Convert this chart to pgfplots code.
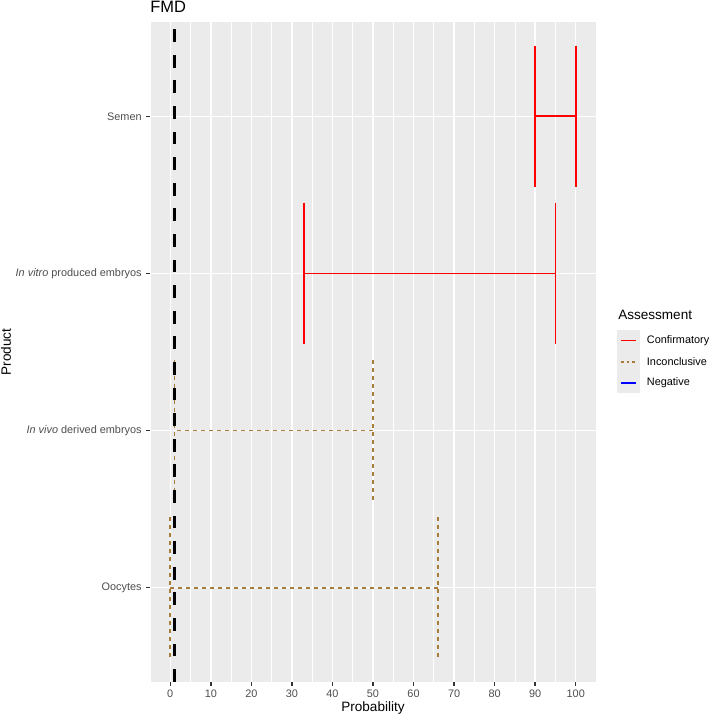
\documentclass[border=0pt]{standalone}
\usepackage{pgfplots}
\pgfplotsset{compat=1.18}
\usepackage{fontspec}
\setmainfont{Liberation Sans}
\definecolor{grey92}{HTML}{EBEBEB}
\definecolor{grey30}{HTML}{4D4D4D}
\definecolor{grey20}{HTML}{333333}
\definecolor{conf}{HTML}{FF0000}
\definecolor{inconc}{HTML}{A87D3A}
\definecolor{negc}{HTML}{0000FF}
\begin{document}
\begin{tikzpicture}
\begin{axis}[
  at={(0,0)}, anchor=south west,
  scale only axis, width=334.5bp, height=495bp,
  xmin=-5, xmax=105, ymin=0.4, ymax=4.6,
  axis background/.style={fill=grey92},
  axis line style={draw=none},
  xtick={0,10,...,100},
  minor xtick={-5,5,...,105},
  ytick={1,2,3,4},
  yticklabels={Oocytes,\textit{In vivo} derived embryos,\textit{In vitro} produced embryos,Semen},
  xmajorgrids, xminorgrids, ymajorgrids,
  major grid style={white, line width=1.07bp},
  minor grid style={white, line width=0.53bp},
  tick align=outside, tick pos=left,
  major tick length=2.75bp, minor tick length=0pt,
  tick style={grey20, line width=1.07bp},
  /pgf/number format/assume math mode=true,
  ticklabel style={font=\fontsize{8.2}{9}\selectfont, text=grey30},
  xticklabel style={anchor=north, yshift=0bp},
  yticklabel style={anchor=east},
  xlabel={Probability}, ylabel={Product},
  label style={font=\fontsize{10.2}{12}\selectfont, text=black},
  xlabel style={at={(axis description cs:0.5,0)}, anchor=center, yshift=-19.5bp},
  ylabel style={at={(axis description cs:0,0.5)}, anchor=center, rotate=0, yshift=108bp},
  clip=true,
  cf/.style={draw=conf, line width=1.2bp, solid},
  ic/.style={draw=inconc, line width=1.2bp, dash pattern=on 3bp off 3bp},
]
% Semen: Confirmatory 90-100
\addplot[cf] coordinates {(100,4.45) (100,3.55)};
\addplot[cf] coordinates {(100,4) (90,4)};
\addplot[cf] coordinates {(90,4.45) (90,3.55)};
% In vitro: Confirmatory 33-95
\addplot[cf] coordinates {(95,3.45) (95,2.55)};
\addplot[cf] coordinates {(95,3) (33,3)};
\addplot[cf] coordinates {(33,3.45) (33,2.55)};
% In vivo: Inconclusive 1-50
\addplot[ic] coordinates {(50,2.45) (50,1.55)};
\addplot[ic] coordinates {(50,2) (1,2)};
\addplot[ic] coordinates {(1,2.45) (1,1.55)};
% Oocytes: Inconclusive 0-66
\addplot[ic] coordinates {(66,1.45) (66,0.55)};
\addplot[ic] coordinates {(66,1) (0,1)};
\addplot[ic] coordinates {(0,1.45) (0,0.55)};
% reference line
\addplot[draw=black, line width=2.4bp, dash pattern=on 9.6bp off 9.6bp] coordinates {(1,0.4) (1,4.6)};
\end{axis}
% title
\node[anchor=base west, inner sep=0pt, font=\fontsize{12.4}{14}\selectfont] at (0bp,502bp) {FMD};
% legend
\node[anchor=west, inner sep=0pt, font=\fontsize{10.2}{12}\selectfont] at (351bp,275.25bp) {Assessment};
\fill[grey92] (350.25bp,216.5bp) rectangle (367.5bp,264bp);
\draw[draw=conf, line width=1.2bp, solid] (353bp,256bp) -- (364.5bp,256bp);
\draw[draw=inconc, line width=1.2bp, dash pattern=on 2.2bp off 2.2bp] (353bp,240bp) -- (364.5bp,240bp);
\draw[draw=negc, line width=1.2bp, solid] (353bp,224.25bp) -- (364.5bp,224.25bp);
\begin{scope}[every node/.style={anchor=west, inner sep=0pt, font=\fontsize{8.2}{9}\selectfont, text=black}]
\node at (372.5bp,256bp) {Confirmatory};
\node at (372.5bp,240bp) {Inconclusive};
\node at (372.5bp,224.25bp) {Negative};
\end{scope}
\pgfresetboundingbox
\path[use as bounding box] (-112.5bp,-25.5bp) rectangle (419.25bp,511.5bp);
\end{tikzpicture}
\end{document}
